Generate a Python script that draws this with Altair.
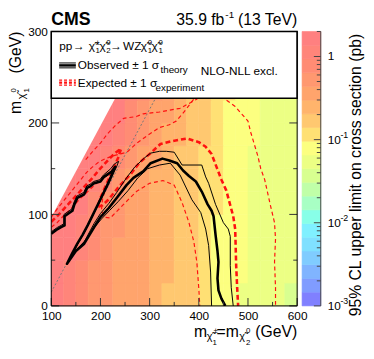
import altair as alt
import pandas as pd
import numpy as np

FONT = "Liberation Sans"

# ---------------- heatmap: 95% CL upper limit (pb), 25 GeV bins ----------------
XBIN = [100, 125, 150, 175, 200, 225, 250, 275, 300, 325, 350, 375, 400, 425, 450, 475, 500, 525, 550, 575]
YBIN = [0, 25, 50, 75, 100, 125, 150, 175, 200, 225]
BIN = 25
R0 = [1.6, 1.2, 0.9, 0.6, 0.5, 0.42, 0.33, 0.3, 0.26, 0.2, 0.18, 0.14, 0.11, 0.09, 0.08, 0.065, 0.06, 0.055, 0.05, 0.044]
R1 = [1.6, 1.25, 0.9, 0.62, 0.5, 0.42, 0.35, 0.3, 0.26, 0.21, 0.18, 0.14, 0.11, 0.09, 0.08, 0.066, 0.06, 0.055, 0.05, 0.045]
R2 = [1.7, 1.4, 0.95, 0.66, 0.52, 0.42, 0.35, 0.3, 0.26, 0.21, 0.18, 0.15, 0.11, 0.09, 0.08, 0.068, 0.06, 0.056, 0.05, 0.045]
R3 = [1.8, 1.6, 1.1, 0.72, 0.55, 0.45, 0.36, 0.3, 0.26, 0.21, 0.18, 0.15, 0.12, 0.095, 0.08, 0.07, 0.062, 0.056, 0.05, 0.046]
R4 = [1.9, 1.8, 1.4, 0.9, 0.6, 0.48, 0.38, 0.31, 0.27, 0.22, 0.19, 0.15, 0.12, 0.1, 0.085, 0.07, 0.062, 0.056, 0.05, 0.046]
R5 = [None, 1.9, 1.7, 1.2, 0.8, 0.55, 0.42, 0.34, 0.28, 0.23, 0.19, 0.16, 0.125, 0.1, 0.085, 0.072, 0.064, 0.057, 0.052, 0.047]
R6 = [None, None, 1.9, 1.6, 1.1, 0.7, 0.5, 0.38, 0.3, 0.24, 0.2, 0.16, 0.13, 0.105, 0.088, 0.075, 0.065, 0.058, 0.052, 0.048]
R7 = [None, None, None, 1.8, 1.5, 1.0, 0.65, 0.45, 0.34, 0.26, 0.21, 0.17, 0.14, 0.11, 0.09, 0.078, 0.067, 0.06, 0.054, 0.05]
R8 = [None, None, None, None, 1.8, 1.4, 0.9, 0.6, 0.4, 0.3, 0.23, 0.18, 0.15, 0.12, 0.095, 0.08, 0.07, 0.062, 0.056, 0.05]
R9 = [None, None, None, None, None, 1.7, 1.2, 0.8, 0.5, 0.35, 0.26, 0.2, 0.16, 0.13, 0.1, 0.085, 0.072, 0.064, 0.058, 0.052]
LIMITS = [R0, R1, R2, R3, R4, R5, R6, R7, R8, R9]

# upper-left edge of the scanned grid (m_LSP = m_NLSP - 3)
MASK_X = [100, 303]
MASK_Y = [97, 300]

# ---------------- contours (x = m_chargino, y = m_LSP) ----------------
OBS = [(100, 79), (113, 84), (120, 86), (127, 88), (127, 98), (143, 104), (147, 111), (153, 118), (167, 122),
       (173, 129), (180, 131), (187, 134), (200, 136), (207, 141), (223, 147), (230, 152), (224, 144), (214, 132),
       (204, 121), (194, 110), (184, 99), (174, 88), (164, 78), (153, 68), (142, 57), (132, 46), (150, 60),
       (167, 68), (187, 86), (200, 97), (217, 107), (233, 118), (253, 132), (267, 140), (287, 147), (302, 156),
       (326, 161), (340, 159), (356, 156), (368, 148), (380, 142), (394, 136), (406, 125), (418, 111), (426, 104),
       (430, 98), (434, 78), (438, 60), (440, 48), (438, 30), (440, 17), (446, 8), (454, 0)]
OBS_UP = [(100, 81), (113, 86), (120, 88), (126, 90), (126, 100), (142, 106), (146, 113), (152, 120), (166, 124),
          (172, 131), (179, 133), (186, 136), (199, 138), (206, 143), (221, 150), (228, 155), (237, 158), (232, 151),
          (224, 143), (214, 131), (204, 120), (194, 109), (184, 98), (174, 87), (164, 77), (153, 67), (142, 56),
          (132, 46), (150, 61), (167, 70), (187, 90), (200, 101), (217, 112), (233, 124), (253, 140), (270, 152),
          (290, 162), (302, 167), (320, 169), (334, 169), (350, 168), (366, 154), (380, 154), (406, 154), (414, 141),
          (420, 134), (434, 111), (450, 91), (460, 84), (464, 76), (464, 44), (466, 20), (470, 0)]
OBS_DN = [(100, 79), (113, 84), (120, 86), (127, 88), (127, 98), (143, 104), (147, 111), (153, 118), (167, 122),
          (173, 129), (180, 131), (187, 134), (200, 136), (207, 140), (218, 144), (225, 148), (220, 141), (212, 131),
          (202, 120), (192, 108), (182, 97), (172, 86), (162, 76), (152, 66), (142, 56), (132, 46), (152, 62),
          (170, 72), (188, 86), (202, 95), (218, 104), (236, 114), (256, 126), (276, 140), (296, 150), (320, 154),
          (342, 156), (362, 143), (386, 116), (404, 102), (414, 84), (420, 66), (424, 37), (426, 0)]
EXP = [(100, 92), (112, 98), (124, 105), (136, 112), (148, 119), (160, 126), (172, 133), (184, 140), (196, 148),
       (208, 155), (220, 162), (232, 168), (242, 172), (236, 162), (228, 152), (218, 140), (208, 128), (200, 118),
       (194, 108), (204, 110), (216, 116), (228, 124), (240, 132), (260, 143), (280, 157), (300, 166), (322, 177),
       (345, 180), (376, 183), (400, 179), (414, 174), (426, 166), (436, 152), (446, 138), (456, 126), (464, 110),
       (470, 98), (474, 84), (476, 44), (478, 20), (480, 0)]
EXP_DN = [(100, 86), (112, 91), (124, 98), (136, 104), (148, 111), (160, 118), (172, 124), (184, 130), (196, 136),
          (208, 142), (218, 146), (226, 150), (218, 140), (210, 128), (204, 116), (202, 104), (208, 97), (220, 96),
          (247, 111), (273, 125), (300, 134), (327, 137), (350, 132), (366, 113), (380, 91), (390, 70), (396, 48),
          (400, 19), (402, 0)]
EXP_UP = [(100, 97), (112, 106), (124, 114), (136, 122), (148, 130), (160, 138), (172, 146), (184, 152), (196, 157),
          (210, 161), (226, 164), (240, 166), (254, 168), (274, 178), (300, 188), (320, 195), (340, 198), (354, 202),
          (370, 212), (384, 222), (394, 229), (410, 240), (430, 238), (446, 229), (474, 218), (500, 202), (506, 189),
          (520, 164), (526, 150), (534, 138), (546, 109), (554, 91), (556, 73), (554, 48), (556, 20), (556, 0)]
EXP_UP2 = [(170, 160), (186, 170), (200, 178), (214, 188), (230, 197), (247, 205), (273, 207), (287, 210),
           (320, 212), (362, 216), (396, 226), (410, 234)]
DIAG = [(100, 15), (314, 229)]

# ---------------- colour bar ----------------
LOGMIN, LOGMAX, NBANDS = -3.0, float(np.log10(2.0)), 20
PALETTE = ["#8080ff", "#809cff", "#80b4ff", "#80ccff", "#80e0ff", "#80f0ff", "#88ffe8", "#a8ffc4", "#c0ffa8",
           "#d8ff90", "#ecff84", "#fcff80", "#ffe074", "#ffc870", "#ffb46c", "#ffa46c", "#ff9870", "#ff8c74",
           "#ff857a", "#ff8080"]
CB_MAJOR = [0.001, 0.01, 0.1, 1.0]
CB_MINOR = [m * 10.0 ** e for e in (-3, -2, -1, 0) for m in range(2, 10) if m * 10.0 ** e <= 2.0]
CB_LABELS = [(1.0, "1", ""), (0.1, "10", "-1"), (0.01, "10", "-2"), (0.001, "10", "-3")]

# ---------------- build tables ----------------
cells = []
for r, y0 in enumerate(YBIN):
    for c, x0 in enumerate(XBIN):
        v = LIMITS[r][c]
        if v is not None:
            cells.append({"x0": x0, "x1": x0 + BIN, "y0": y0, "y1": y0 + BIN, "v": v})
heat_df = pd.DataFrame(cells)

W = (LOGMAX - LOGMIN) / NBANDS
cb_df = pd.DataFrame({
    "lo": [10 ** (LOGMIN + k * W) for k in range(NBANDS)],
    "hi": [10 ** (LOGMIN + (k + 1) * W) for k in range(NBANDS)],
    "mid": [LOGMIN + (k + 0.5) * W for k in range(NBANDS)],
})

DUMMY = pd.DataFrame({"a": [0]})

XS = alt.Scale(domain=[100, 600], nice=False, zero=False, padding=0)
YS = alt.Scale(domain=[0, 300], nice=False, zero=False, padding=0)
CS = alt.Scale(type="quantize", domain=[LOGMIN, LOGMAX], range=PALETTE, nice=False, zero=False)
XAX = alt.Axis(values=[100, 200, 300, 400, 500, 600], title=None, ticks=False, domain=False, grid=False,
               labelFont=FONT, labelFontSize=12, labelColor="black", labelPadding=5, labelOverlap=False,
               labelFlush=False)
YAX = alt.Axis(values=[0, 100, 200, 300], title=None, ticks=False, domain=False, grid=False,
               labelFont=FONT, labelFontSize=12, labelColor="black", labelPadding=4, labelOverlap=False,
               labelFlush=False)

# colour-bar value -> position on the (shared) y scale, 0..300
CB_POS = "(log({f})/LN10 - (" + str(LOGMIN) + "))/(" + str(LOGMAX - LOGMIN) + ")*300"


def P(px, py):
    """page pixel -> plot pixel"""
    return px - 52, py - 29


def txt(s, px, py, size=12, align="left", weight="normal", angle=0, baseline="alphabetic", color="black"):
    X, Y = P(px, py)
    return alt.Chart(DUMMY).mark_text(text=s, font=FONT, fontSize=size, align=align, fontWeight=weight,
                                      angle=angle, baseline=baseline, color=color).encode(
        x=alt.value(X), y=alt.value(Y))


def line(pts, color, width, dash=None):
    df = pd.DataFrame({"x": [p[0] for p in pts], "y": [p[1] for p in pts], "i": list(range(len(pts)))})
    kw = dict(color=color, strokeWidth=width, clip=True, strokeJoin="round")
    if dash:
        kw["strokeDash"] = dash
    return alt.Chart(df).mark_line(**kw).encode(
        x=alt.X("x:Q", scale=XS, axis=XAX), y=alt.Y("y:Q", scale=YS, axis=YAX), order="i:Q")


def hrule(px0, px1, py, color, width, dash=None):
    X0, Y = P(px0, py)
    X1, _ = P(px1, py)
    kw = dict(color=color, strokeWidth=width)
    if dash:
        kw["strokeDash"] = dash
    return alt.Chart(DUMMY).mark_rule(**kw).encode(x=alt.value(X0), x2=alt.value(X1), y=alt.value(Y))


heat = alt.Chart(heat_df).transform_calculate(lv="log(datum.v)/LN10").mark_rect(strokeWidth=0.6).encode(
    x=alt.X("x0:Q", scale=XS, axis=XAX), x2="x1:Q",
    y=alt.Y("y0:Q", scale=YS, axis=YAX), y2="y1:Q",
    color=alt.Color("lv:Q", scale=CS, legend=None),
    stroke=alt.Stroke("lv:Q", scale=CS, legend=None))

mask = alt.Chart(pd.DataFrame({"x": MASK_X, "y": MASK_Y, "y2": [300, 300]})).mark_area(color="white").encode(
    x=alt.X("x:Q", scale=XS, axis=XAX), y=alt.Y("y:Q", scale=YS, axis=YAX), y2="y2:Q")

RED = "#ff1010"
layers = [
    heat, mask,
    line(DIAG, "#777777", 1, [2, 2]),
    line(EXP_UP, RED, 1.2, [4, 3]),
    line(EXP_UP2, RED, 1.2, [4, 3]),
    line(EXP_DN, RED, 1.2, [4, 3]),
    line(EXP, RED, 2.6, [5, 3]),
    line(OBS_UP, "black", 1),
    line(OBS_DN, "black", 1),
    line(OBS, "black", 2.6),
]

# inward ticks
XT_MAJ, XT_MIN = [100, 200, 300, 400, 500, 600], [150, 250, 350, 450, 550]
YT_MAJ, YT_MIN = [0, 100, 200, 300], [50, 150, 250]
for vals, ln in ((XT_MAJ, 8), (XT_MIN, 4)):
    layers.append(alt.Chart(pd.DataFrame({"t": vals})).mark_rule(color="#333", strokeWidth=1).encode(
        x=alt.X("t:Q", scale=XS, axis=XAX), y=alt.value(279), y2=alt.value(279 - ln)))
for vals, ln in ((YT_MAJ, 8), (YT_MIN, 4)):
    for x0, sgn in ((0, 1), (250, -1)):
        layers.append(alt.Chart(pd.DataFrame({"t": vals})).mark_rule(color="#333", strokeWidth=1).encode(
            y=alt.Y("t:Q", scale=YS, axis=YAX), x=alt.value(x0), x2=alt.value(x0 + sgn * ln)))

# colour bar (drawn on the shared y scale, right of the frame)
layers.append(alt.Chart(cb_df).transform_calculate(
    ylo=CB_POS.format(f="datum.lo"), yhi=CB_POS.format(f="datum.hi")).mark_rect(strokeWidth=0.6).encode(
    x=alt.value(255), x2=alt.value(274),
    y=alt.Y("ylo:Q", scale=YS, axis=YAX), y2="yhi:Q",
    color=alt.Color("mid:Q", scale=CS, legend=None),
    stroke=alt.Stroke("mid:Q", scale=CS, legend=None)))
for vals, ln in ((CB_MAJOR, 7), (CB_MINOR, 4)):
    layers.append(alt.Chart(pd.DataFrame({"t": vals})).transform_calculate(
        ty=CB_POS.format(f="datum.t")).mark_rule(color="#444", strokeWidth=1).encode(
        y=alt.Y("ty:Q", scale=YS, axis=YAX), x=alt.value(274), x2=alt.value(274 - ln)))
layers.append(alt.Chart(DUMMY).mark_rule(color="#444", strokeWidth=1).encode(
    x=alt.value(274), y=alt.value(0), y2=alt.value(279)))
lab_df = pd.DataFrame({"t": [l[0] for l in CB_LABELS], "base": [l[1] for l in CB_LABELS],
                       "exp": [l[2] for l in CB_LABELS]})
layers.append(alt.Chart(lab_df).transform_calculate(ty=CB_POS.format(f="datum.t")).mark_text(
    font=FONT, fontSize=12, align="left", baseline="middle", color="black").encode(
    y=alt.Y("ty:Q", scale=YS, axis=YAX), x=alt.value(281), text="base:N"))
layers.append(alt.Chart(lab_df).transform_calculate(ty=CB_POS.format(f="datum.t")).mark_text(
    font=FONT, fontSize=9, align="left", baseline="middle", color="black", dy=-5).encode(
    y=alt.Y("ty:Q", scale=YS, axis=YAX), x=alt.value(294), text="exp:N"))

# legend box
layers.append(alt.Chart(DUMMY).mark_rect(fill="white", stroke="black", strokeWidth=1.5).encode(
    x=alt.value(0), x2=alt.value(250), y=alt.value(0), y2=alt.value(68)))

CHI = "\u03c7\u0303"
layers += [
    txt("pp", 60, 48), txt("\u2192", 74, 48), txt(CHI, 90, 48),
    txt("\u00b1", 97, 43, 8), txt("1", 97, 51, 8),
    txt(CHI, 101, 48), txt("0", 108, 43, 8), txt("2", 108, 51, 8),
    txt("\u2192", 112, 48), txt("WZ", 125, 48),
    txt(CHI, 143, 48), txt("0", 150, 43, 8), txt("1", 150, 51, 8),
    txt(CHI, 154, 48), txt("0", 161, 43, 8), txt("1", 161, 51, 8),
    hrule(60, 77, 61, "black", 1), hrule(60, 77, 63.5, "black", 2.5), hrule(60, 77, 66, "black", 1),
    txt("Observed \u00b1 1 \u03c3", 79, 67.5), txt("theory", 163, 71.5, 10),
    txt("NLO-NLL excl.", 204, 73.5),
    hrule(60, 77, 78.5, RED, 1.2, [3, 2]), hrule(60, 77, 81, RED, 2.2, [3, 2]),
    hrule(60, 77, 83.5, RED, 1.2, [3, 2]),
    txt("Expected \u00b1 1 \u03c3", 79, 85.5), txt("experiment", 158, 89.5, 10),
]

# frame
layers.append(alt.Chart(DUMMY).mark_rect(fillOpacity=0, stroke="black", strokeWidth=1).encode(
    x=alt.value(0), x2=alt.value(250), y=alt.value(0), y2=alt.value(279)))

# titles
layers += [
    txt("CMS", 52, 22, 18, weight="bold"),
    txt("35.9 fb", 228, 22, 16, align="right"), txt("-1", 229, 15, 10),
    txt("(13 TeV)", 302, 22, 16, align="right"),
    # x title
    txt("m", 197, 340, 16), txt(CHI, 210, 343, 11), txt("\u00b1", 217, 336, 8), txt("1", 216, 348, 8),
    txt("=m", 220, 340, 16), txt(CHI, 243, 343, 11), txt("0", 250, 336, 8), txt("2", 250, 348, 8),
    txt("(GeV)", 302, 340, 16, align="right"),
    # y title (rotated)
    txt("(GeV)", 21, 29, 16, align="right", angle=270),
    txt("m", 21, 113, 16, angle=270),
    txt(CHI, 25, 98, 11, angle=270),
    txt("0", 16, 91, 8, angle=270), txt("1", 29, 91, 8, angle=270),
    # colour bar title
    txt("95% CL upper limit on cross section (pb)", 367, 175, 16, align="center", angle=270),
]

chart = alt.layer(*layers).properties(
    width=250, height=279,
    autosize=alt.AutoSizeParams(type="none"),
    padding={"left": 44, "top": 21, "right": 70, "bottom": 43},
).configure_view(stroke=None).configure(background="white")

chart.save("out.html", embed_options={"renderer": "svg", "actions": False})
